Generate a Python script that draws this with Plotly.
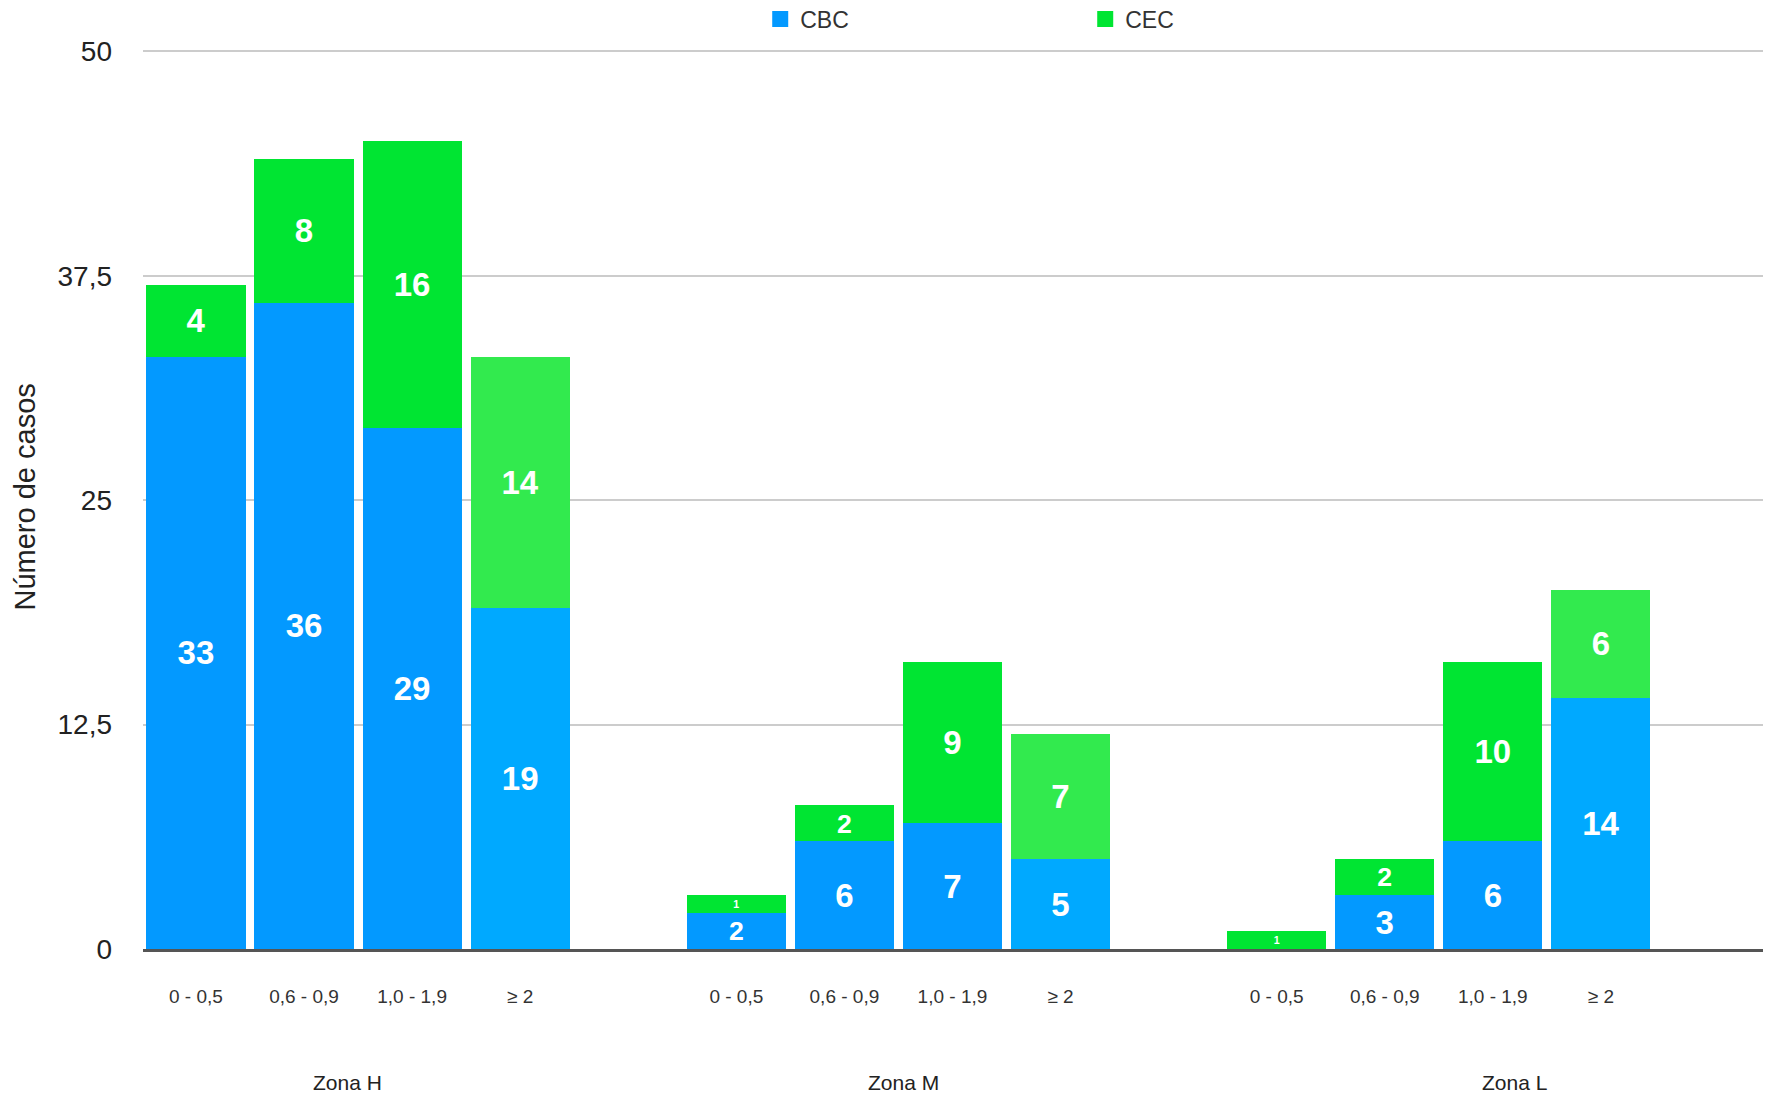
import plotly.graph_objects as go

categories = ["0 - 0,5", "0,6 - 0,9", "1,0 - 1,9", "≥ 2"]
zones = ["Zona H", "Zona M", "Zona L"]
cbc_h = [33, 36, 29, 19]
cbc_m = [2, 6, 7, 5]
cbc_l = [0, 3, 6, 14]
cec_h = [4, 8, 16, 14]
cec_m = [1, 2, 9, 7]
cec_l = [1, 2, 10, 6]
y_tickvals = [0, 12.5, 25, 37.5, 50]
y_ticktext = ["0", "12,5", "25", "37,5", "50"]
zone_label_offsets = [1.4, 1.55, 2.2]

cbc = cbc_h + cbc_m + cbc_l
cec = cec_h + cec_m + cec_l
xpos = [z * 5 + c for z in range(len(zones)) for c in range(len(categories))]
xtext = categories * len(zones)

BLUE, BLUE2 = "#0399FF", "#00A9FF"
GREEN, GREEN2 = "#00E532", "#32EA4E"
blue = [BLUE if c < 3 else BLUE2 for z in range(3) for c in range(4)]
green = [GREEN if c < 3 else GREEN2 for z in range(3) for c in range(4)]

FONT = "Liberation Sans, Arial, Helvetica, sans-serif"

fig = go.Figure()
for name, vals, cols in [("CBC", cbc, blue), ("CEC", cec, green)]:
    fig.add_trace(go.Bar(
        name=name, x=xpos, y=vals, width=0.917,
        marker=dict(color=cols, line=dict(width=0)),
        text=[str(v) if v > 0 else "" for v in vals],
        textposition="inside", insidetextanchor="middle", textangle=0,
        textfont=dict(color="white", size=33, family=FONT, weight="bold"),
        hoverinfo="skip", showlegend=False,
    ))
# legend entries
for name, col in [("CBC", BLUE), ("CEC", GREEN)]:
    fig.add_trace(go.Scatter(
        name=name, x=[None], y=[None], mode="markers",
        marker=dict(symbol="square", size=16, color=col),
        showlegend=True, hoverinfo="skip",
    ))

L, T, R, B = 135, 38, 9, 148
W, H = 1764, 1089
plot_w = W - L - R
plot_h = H - T - B

annotations = []
for i, z in enumerate(zones):
    annotations.append(dict(
        x=i * 5 + zone_label_offsets[i], y=0, xref="x", yref="y",
        yshift=-133, yanchor="middle", text=z, showarrow=False,
        font=dict(size=21, color="#222", family=FONT),
    ))
annotations.append(dict(
    x=(16 - L) / plot_w, y=0.5, xref="paper", yref="paper",
    xanchor="center", yanchor="middle",
    text="Número de casos", textangle=-90, showarrow=False,
    font=dict(size=29, color="#222", family=FONT),
))

fig.update_layout(
    width=W, height=H,
    barmode="stack",
    paper_bgcolor="white", plot_bgcolor="white",
    margin=dict(l=L, r=R, t=T, b=B, autoexpand=False),
    font=dict(family=FONT, color="#222"),
    showlegend=True,
    legend=dict(
        orientation="h", x=0.381, xanchor="left",
        y=1 + (T - 11) / plot_h, yanchor="middle",
        font=dict(size=23, color="#333", family=FONT),
        entrywidth=280, entrywidthmode="pixels", itemclick=False,
        bgcolor="rgba(0,0,0,0)", traceorder="normal", itemsizing="trace",
    ),
    annotations=annotations,
    xaxis=dict(
        range=[-0.49, 14.5], tickvals=xpos, ticktext=xtext,
        showgrid=False, zeroline=False, showline=True,
        linecolor="#555", linewidth=2.5, ticks="",
        tickfont=dict(size=19, color="#333", family=FONT),
        ticklabelstandoff=28,
    ),
    yaxis=dict(
        range=[0, 50.3], tickvals=y_tickvals, ticktext=y_ticktext,
        showgrid=True, gridcolor="#cccccc", gridwidth=2,
        zeroline=False, showline=False, ticks="",
        tickfont=dict(size=28, color="#222", family=FONT),
        ticklabelstandoff=30,
    ),
)

fig.write_html("out.html")
